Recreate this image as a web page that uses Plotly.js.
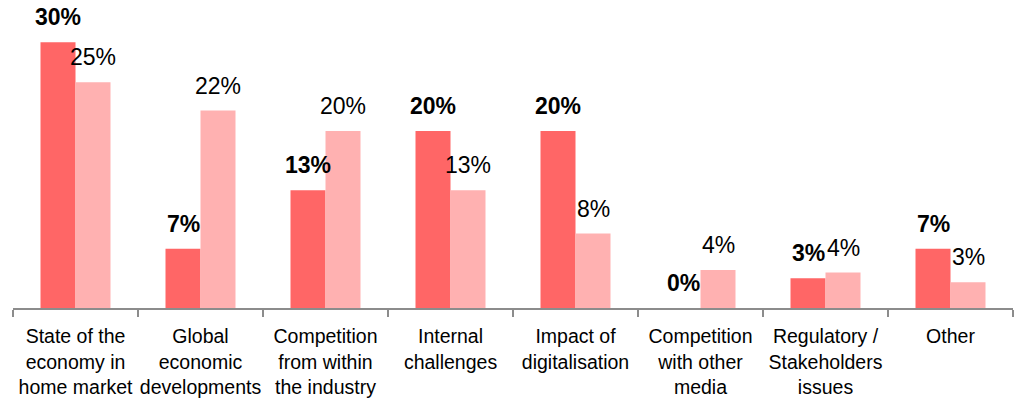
<!DOCTYPE html>
<html>
<head>
<meta charset="utf-8">
<script src="https://cdn.plot.ly/plotly-3.0.1.min.js"></script>
<style>html,body{margin:0;padding:0;background:#fff;}#chart{width:1017px;height:405px;}</style>
</head>
<body>
<div id="chart"></div>
<script>
const categories = [
  "State of the<br>economy in<br>home market",
  "Global<br>economic<br>developments",
  "Competition<br>from within<br>the industry",
  "Internal<br>challenges",
  "Impact of<br>digitalisation",
  "Competition<br>with other<br>media",
  "Regulatory /<br>Stakeholders<br>issues",
  "Other"
];
const seriesA = [30.0, 6.7, 13.3, 20.0, 20.0, 0.0, 3.35, 6.7];
const seriesB = [25.5, 22.3, 20.0, 13.3, 8.4, 4.3, 4.0, 2.9];
const labelsA = ["30%", "7%", "13%", "20%", "20%", "0%", "3%", "7%"];
const labelsB = ["25%", "22%", "20%", "13%", "8%", "4%", "4%", "3%"];

const colorA = "#FF6666";
const colorB = "#FFB1B1";

const traces = [
  {type: "bar", x: categories, y: seriesA, marker: {color: colorA}, hoverinfo: "none", name: "A"},
  {type: "bar", x: categories, y: seriesB, marker: {color: colorB}, hoverinfo: "none", name: "B"}
];

const annotations = [];
categories.forEach((c, i) => {
  annotations.push({x: c, y: seriesA[i], text: labelsA[i], showarrow: false, xshift: -17.5, yshift: 25,
    font: {family: "Liberation Sans, Arial, sans-serif", size: 23, color: "#000", weight: "bold"}});
  annotations.push({x: c, y: seriesB[i], text: labelsB[i], showarrow: false, xshift: 17.5, yshift: 25,
    font: {family: "Liberation Sans, Arial, sans-serif", size: 23, color: "#000"}});
});

const layout = {
  width: 1017, height: 405,
  margin: {l: 13, r: 4, t: 0, b: 97},
  paper_bgcolor: "#fff", plot_bgcolor: "#fff",
  barmode: "group", bargap: 0.44, bargroupgap: 0,
  showlegend: false,
  font: {family: "Liberation Sans, Arial, sans-serif", size: 19.5, color: "#000"},
  xaxis: {
    type: "category", showline: true, linecolor: "#8c8c8c", linewidth: 2,
    ticks: "outside", tickson: "boundaries", ticklen: 7, tickwidth: 2, tickcolor: "#8c8c8c",
    ticklabelstandoff: 10,
    showgrid: false, zeroline: false, tickangle: 0,
    tickfont: {size: 19.5, color: "#000"}
  },
  yaxis: {range: [0, 34.78], visible: false, showgrid: false, zeroline: false},
  annotations: annotations
};

Plotly.newPlot("chart", traces, layout, {displayModeBar: false, staticPlot: true});
</script>
</body>
</html>
